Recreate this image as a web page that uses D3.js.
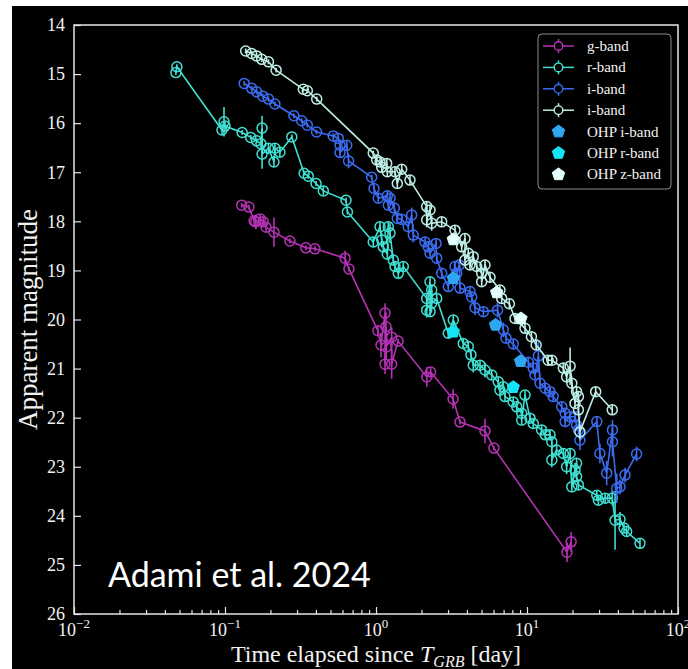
<!DOCTYPE html>
<html>
<head>
<meta charset="utf-8">
<script src="https://cdn.jsdelivr.net/npm/d3@7"></script>
<style>
  body { margin: 0; background: #fff; }
  text { font-family: "Liberation Serif", "DejaVu Serif", serif; fill: #f2f2f2; }
  text.note { font-family: Lato, "Open Sans", sans-serif; fill: #fff; }
</style>
</head>
<body>
<svg id="chart" width="688" height="669"></svg>
<script>
// [time (day), magnitude, error]
const gBand = [
  [0.129,17.67,0.05],[0.144,17.71,0.05],[0.156,17.99,0.1],[0.160,18.01,0.15],[0.171,17.95,0.1],
  [0.179,18.01,0.1],[0.187,18.12,0.1],[0.211,18.22,0.3],[0.269,18.40,0.05],[0.343,18.54,0.05],
  [0.394,18.56,0.05],[0.624,18.75,0.15],[0.662,18.97,0.05],[1.03,20.23,0.1],[1.079,20.52,0.25],
  [1.148,19.87,0.2],[1.148,20.91,0.2],[1.164,20.15,0.3],[1.17,20.56,0.25],[1.27,20.36,0.2],
  [1.27,20.91,0.3],[1.40,20.44,0.05],[2.17,21.17,0.2],[2.30,21.07,0.1],[3.24,21.62,0.2],
  [3.60,22.09,0.05],[5.27,22.27,0.25],[6.04,22.62,0.05],[18.4,24.74,0.2],[19.6,24.53,0.2]
];

const rBand = [
  [0.0473,14.97,0.05],[0.048,14.85,0.05],[0.0955,16.14,0.1],[0.0985,15.97,0.3],[0.100,16.06,0.1],
  [0.130,16.19,0.05],[0.148,16.29,0.05],[0.162,16.36,0.05],[0.173,16.42,0.1],[0.176,16.10,0.25],
  [0.176,16.63,0.3],[0.194,16.51,0.1],[0.211,16.79,0.1],[0.214,16.51,0.1],[0.231,16.59,0.1],
  [0.277,16.28,0.05],[0.334,17.02,0.05],[0.356,17.08,0.05],[0.401,17.23,0.05],[0.448,17.38,0.1],
  [0.633,17.57,0.05],[0.647,17.81,0.05],[0.959,18.42,0.1],[1.063,18.11,0.1],[1.091,18.38,0.15],
  [1.118,18.52,0.1],[1.188,18.67,0.1],[1.206,18.11,0.1],[1.238,18.24,0.2],[1.302,18.79,0.1],
  [1.336,18.92,0.1],[1.405,19.06,0.1],[1.516,18.92,0.1],[2.167,19.57,0.1],[2.167,19.81,0.15],
  [2.279,19.23,0.1],[2.279,19.84,0.1],[2.338,19.40,0.1],[2.338,19.67,0.1],[2.523,19.57,0.1],
  [3.011,20.28,0.1],[3.250,20.01,0.1],[3.785,20.49,0.1],[4.085,20.55,0.1],[4.256,20.72,0.1],
  [4.406,20.93,0.15],[4.883,20.93,0.1],[5.27,21.03,0.15],[5.84,21.13,0.1],[6.45,21.27,0.1],
  [6.62,21.44,0.1],[6.97,21.37,0.1],[7.15,21.57,0.1],[8.11,21.68,0.1],[8.55,21.78,0.1],
  [9.22,21.91,0.1],[9.22,22.05,0.1],[9.70,21.54,0.1],[10.47,22.01,0.1],[11.0,22.12,0.1],
  [12.5,22.25,0.1],[13.2,22.35,0.1],[14.2,22.35,0.1],[14.6,22.49,0.1],[14.6,22.86,0.15],
  [15.7,22.66,0.1],[17.4,22.73,0.1],[18.3,23.00,0.15],[19.3,22.73,0.1],[19.8,23.41,0.1],
  [20.8,23.07,0.15],[21.3,22.93,0.1],[21.3,23.20,0.1],[21.9,23.37,0.1],[29.0,23.58,0.1],
  [29.7,23.68,0.1],[32.9,23.64,0.1],[36.7,23.64,0.15],[38.3,24.09,0.6],[41.3,24.07,0.15],
  [43.9,24.25,0.1],[45.7,24.32,0.1],[56.0,24.56,0.1]
];

const iBand = [
  [0.134,15.19,0.05],[0.150,15.29,0.05],[0.162,15.36,0.05],[0.178,15.45,0.05],[0.194,15.51,0.05],
  [0.214,15.61,0.05],[0.286,15.85,0.05],[0.322,15.95,0.05],[0.351,16.04,0.05],[0.404,16.18,0.05],
  [0.521,16.26,0.05],[0.563,16.31,0.05],[0.578,16.45,0.1],[0.578,16.60,0.1],[0.640,16.45,0.1],
  [0.658,16.77,0.15],[0.936,17.10,0.05],[0.970,17.33,0.1],[1.036,17.53,0.1],[1.188,17.48,0.1],
  [1.206,17.67,0.1],[1.238,17.53,0.1],[1.322,17.73,0.1],[1.384,17.94,0.1],[1.480,17.96,0.1],
  [1.636,18.11,0.1],[1.723,17.87,0.15],[1.766,18.28,0.15],[2.112,18.42,0.1],[2.220,18.52,0.1],
  [2.279,18.65,0.1],[2.497,18.45,0.1],[2.523,18.75,0.1],[2.723,19.06,0.1],[3.011,19.33,0.1],
  [3.337,18.92,0.1],[3.423,19.06,0.1],[3.562,18.89,0.1],[3.598,19.36,0.1],[4.194,19.43,0.1],
  [4.303,19.54,0.1],[4.526,19.76,0.15],[5.14,19.84,0.1],[6.38,19.81,0.15],[6.97,20.21,0.15],
  [7.26,20.38,0.1],[8.11,20.50,0.1],[10.2,20.87,0.1],[11.0,20.99,0.1],[11.3,21.13,0.1],
  [11.9,20.74,0.3],[12.2,21.30,0.1],[13.2,21.40,0.1],[14.2,21.47,0.1],[14.9,21.57,0.1],
  [17.0,21.78,0.1],[17.9,21.91,0.1],[17.9,22.08,0.1],[19.3,21.98,0.1],[20.8,21.98,0.1],
  [21.3,22.15,0.1],[21.9,22.25,0.1],[22.4,22.46,0.2],[29.0,22.08,0.1],[30.4,22.73,0.2],
  [33.7,23.13,0.25],[36.8,22.25,0.2],[36.8,22.49,0.3],[39.3,23.44,0.3],[41.3,23.41,0.15],
  [44.6,23.17,0.15],[53.2,22.74,0.15]
];

// second i-band set (pale)
const iBand2 = [
  [0.137,14.53,0.05],[0.150,14.58,0.05],[0.162,14.63,0.05],[0.175,14.70,0.05],[0.194,14.75,0.05],
  [0.218,14.92,0.05],[0.330,15.31,0.05],[0.351,15.34,0.05],[0.405,15.51,0.05],[0.959,16.61,0.05],
  [1.011,16.75,0.1],[1.063,16.79,0.1],[1.091,16.90,0.1],[1.177,16.82,0.1],[1.188,16.99,0.1],
  [1.336,16.99,0.1],[1.384,17.23,0.1],[1.480,16.94,0.1],[1.679,17.16,0.1],[2.167,17.70,0.1],
  [2.167,17.97,0.15],[2.279,17.77,0.1],[2.338,18.04,0.15],[2.723,18.01,0.1],[3.337,18.18,0.1],
  [3.695,18.52,0.1],[3.883,18.35,0.1],[3.883,18.79,0.1],[4.085,18.65,0.1],[4.194,18.89,0.1],
  [4.406,18.72,0.1],[4.645,18.92,0.1],[5.01,19.06,0.1],[5.01,19.23,0.1],[5.27,18.89,0.1],
  [5.69,19.14,0.1],[6.62,19.40,0.1],[6.80,19.57,0.1],[7.64,19.68,0.1],[8.33,19.98,0.1],
  [9.70,20.18,0.1],[10.7,20.35,0.1],[11.5,20.52,0.1],[13.8,20.83,0.1],[14.6,20.83,0.1],
  [17.4,20.99,0.1],[18.3,21.17,0.1],[19.3,20.95,0.38],[19.8,21.30,0.1],[20.8,21.71,0.1],
  [21.3,21.47,0.1],[21.9,21.57,0.1],[21.9,21.84,0.1],[22.4,22.29,0.15],[28.5,21.47,0.1],
  [36.7,21.84,0.1]
];

// OHP points [time, magnitude]
const ohpI = [[3.25,19.16],[6.19,20.11],[9.06,20.85]];
const ohpR = [[3.25,20.25],[8.11,21.38]];
const ohpZ = [[3.25,18.37],[6.30,19.45],[9.12,19.98]];

const xTicks = [1e-2, 1e-1, 1, 10, 100];
const xTickExp = ["\u22122", "\u22121", "0", "1", "2"];
const yTicks = d3.range(14, 27);

const series = [
  { name: "g-band", data: gBand, color: "#b532b5" },
  { name: "r-band", data: rBand, color: "#3fe0d2" },
  { name: "i-band", data: iBand, color: "#3b6cf0" },
  { name: "i-band", data: iBand2, color: "#bdeee6" }
];
const ohp = [
  { name: "OHP i-band", data: ohpI, color: "#2ea6f2" },
  { name: "OHP r-band", data: ohpR, color: "#14e4f6" },
  { name: "OHP z-band", data: ohpZ, color: "#e2fffd" }
];

const plot = { left: 74, right: 678, top: 25, bottom: 614 };
const svg = d3.select("#chart");

// black figure background
svg.append("rect")
  .attr("x", 12).attr("y", 6)
  .attr("width", 676).attr("height", 663)
  .attr("fill", "#000");

const x = d3.scaleLog().domain([1e-2, 1e2]).range([plot.left, plot.right]);
const y = d3.scaleLinear().domain([14, 26]).range([plot.top, plot.bottom]);

svg.append("clipPath").attr("id", "clip")
  .append("rect")
  .attr("x", plot.left).attr("y", plot.top)
  .attr("width", plot.right - plot.left).attr("height", plot.bottom - plot.top);

const dataG = svg.append("g").attr("clip-path", "url(#clip)");

const line = d3.line().x(d => x(d[0])).y(d => y(d[1]));

function pentagon(cx, cy, r) {
  const pts = d3.range(5).map(i => {
    const a = -Math.PI / 2 + i * 2 * Math.PI / 5;
    return [cx + r * Math.cos(a), cy + r * Math.sin(a)];
  });
  return "M" + pts.join("L") + "Z";
}

series.forEach(s => {
  const data = s.data.slice().sort((a, b) => a[0] - b[0]);
  const g = dataG.append("g");
  g.append("path")
    .attr("d", line(data))
    .attr("fill", "none")
    .attr("stroke", s.color)
    .attr("stroke-width", 1.6);
  g.selectAll(".err").data(data).join("line")
    .attr("x1", d => x(d[0])).attr("x2", d => x(d[0]))
    .attr("y1", d => y(d[1] - d[2])).attr("y2", d => y(d[1] + d[2]))
    .attr("stroke", s.color).attr("stroke-width", 1.6);
  g.selectAll("circle").data(data).join("circle")
    .attr("cx", d => x(d[0])).attr("cy", d => y(d[1]))
    .attr("r", 5)
    .attr("fill", "none")
    .attr("stroke", s.color).attr("stroke-width", 1.5);
});

ohp.forEach(s => {
  dataG.append("g").selectAll("path").data(s.data).join("path")
    .attr("d", d => pentagon(x(d[0]), y(d[1]), 6.5))
    .attr("fill", s.color)
    .attr("stroke", s.color).attr("stroke-width", 1);
});

// axes, ticks inward
const xMinor = [];
for (let e = -2; e < 2; e++) {
  for (let k = 2; k < 10; k++) xMinor.push(k * Math.pow(10, e));
}

const axisColor = "#e6e6e6";

const xMajorG = svg.append("g")
  .attr("transform", `translate(0,${plot.bottom})`)
  .call(d3.axisBottom(x).tickValues(xTicks).tickSize(-7).tickFormat(""));
const xMinorG = svg.append("g")
  .attr("transform", `translate(0,${plot.bottom})`)
  .call(d3.axisBottom(x).tickValues(xMinor).tickSize(-4).tickFormat(""));
const yG = svg.append("g")
  .attr("transform", `translate(${plot.left},0)`)
  .call(d3.axisLeft(y).tickValues(yTicks).tickSize(-7).tickPadding(9).tickFormat(d3.format("d")));

[xMajorG, xMinorG, yG].forEach(g => {
  g.select(".domain").remove();
  g.selectAll(".tick line").attr("stroke", axisColor).attr("stroke-width", 1.2);
});
yG.selectAll(".tick text")
  .style("font-family", "'Liberation Serif', serif")
  .style("font-size", "18px")
  .style("fill", "#f2f2f2");

// x tick labels 10^n
xTicks.forEach((v, i) => {
  const t = svg.append("text")
    .attr("x", x(v)).attr("y", 636)
    .attr("text-anchor", "middle")
    .attr("font-size", 18);
  t.append("tspan").text("10");
  t.append("tspan").attr("dy", -8).attr("font-size", 13).text(xTickExp[i]);
});

// frame
svg.append("rect")
  .attr("x", plot.left).attr("y", plot.top)
  .attr("width", plot.right - plot.left).attr("height", plot.bottom - plot.top)
  .attr("fill", "none").attr("stroke", axisColor).attr("stroke-width", 1.5);

// axis titles
const xt = svg.append("text")
  .attr("x", (plot.left + plot.right) / 2).attr("y", 662)
  .attr("text-anchor", "middle")
  .attr("font-size", 24);
xt.append("tspan").text("Time elapsed since ");
xt.append("tspan").attr("font-style", "italic").text("T");
xt.append("tspan").attr("font-style", "italic").attr("font-size", 16).attr("dy", 5).text("GRB");
xt.append("tspan").attr("dy", -5).text(" [day]");

svg.append("text")
  .attr("transform", `translate(37,${(plot.top + plot.bottom) / 2}) rotate(-90)`)
  .attr("text-anchor", "middle")
  .attr("font-size", 27)
  .text("Apparent magnitude");

// annotation
svg.append("text")
  .attr("class", "note")
  .attr("x", 108).attr("y", 587)
  .attr("font-size", 34)
  .text("Adami et al. 2024");

// legend
const legend = svg.append("g");
legend.append("rect")
  .attr("x", 538).attr("y", 34)
  .attr("width", 133).attr("height", 155)
  .attr("rx", 4)
  .attr("fill", "#000")
  .attr("stroke", "#8a8a8a").attr("stroke-width", 1);

const entries = series.map(s => ({ ...s, kind: "err" }))
  .concat(ohp.map(s => ({ ...s, kind: "ohp" })));

entries.forEach((e, i) => {
  const ly = 46 + i * 21.4;
  const g = legend.append("g");
  if (e.kind === "err") {
    g.append("line").attr("x1", 543).attr("x2", 574).attr("y1", ly).attr("y2", ly)
      .attr("stroke", e.color).attr("stroke-width", 1.5);
    g.append("line").attr("x1", 558.5).attr("x2", 558.5).attr("y1", ly - 7).attr("y2", ly + 7)
      .attr("stroke", e.color).attr("stroke-width", 1.5);
    g.append("circle").attr("cx", 558.5).attr("cy", ly).attr("r", 4.3)
      .attr("fill", "#000").attr("stroke", e.color).attr("stroke-width", 1.4);
  } else {
    g.append("path").attr("d", pentagon(558.5, ly, 6.5))
      .attr("fill", e.color).attr("stroke", e.color).attr("stroke-width", 1);
  }
  g.append("text")
    .attr("x", 587).attr("y", ly + 5)
    .attr("font-size", 15)
    .text(e.name);
});
</script>
</body>
</html>
